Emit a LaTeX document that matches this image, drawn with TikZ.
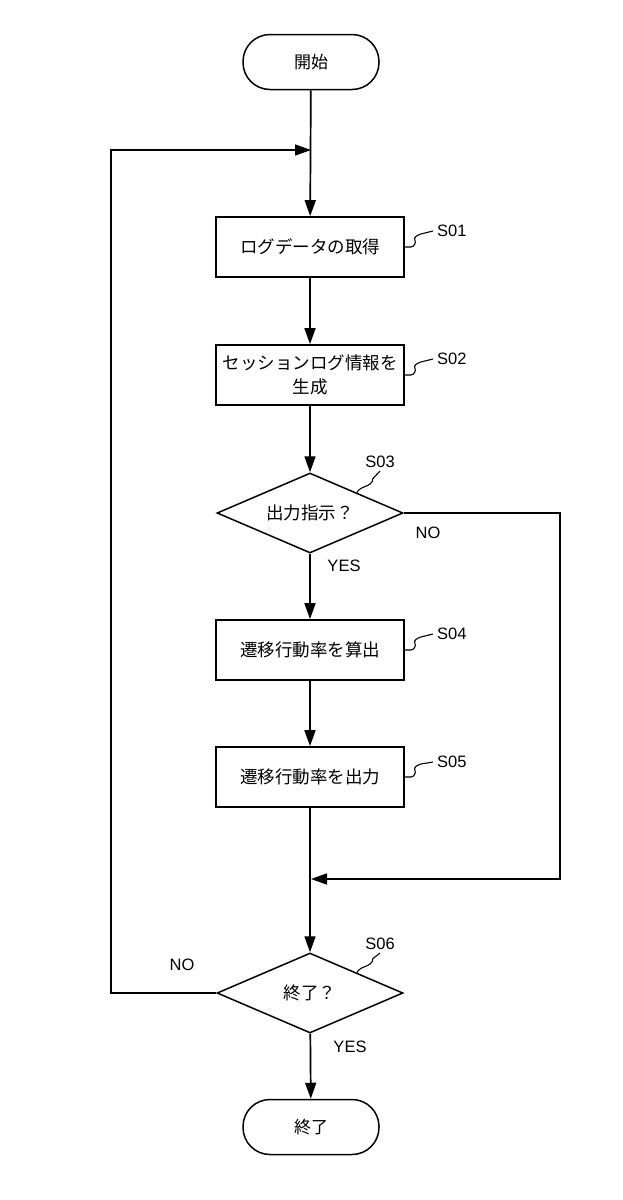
\documentclass[tikz,border=0pt]{standalone}
\usepackage{fontspec}
\setmainfont{Liberation Sans}
\newfontfamily\jp{Noto Sans CJK JP}
\usepackage{tikz}
\usetikzlibrary{shapes.geometric, arrows.meta}
\usetikzlibrary{positioning}
\tikzstyle{terminal} = [rectangle, rounded corners=27pt, minimum width=136pt, minimum height=55pt, draw=black, line width=1.5pt, font=\jp\fontsize{17pt}{20pt}\selectfont]
\tikzstyle{process} = [rectangle, minimum width=188pt, minimum height=60pt, align=center, draw=black, line width=1.7pt, font=\jp\fontsize{17.5pt}{24pt}\selectfont]
\tikzstyle{decision} = [diamond, aspect=2.3, minimum width=186pt, minimum height=80pt, inner sep=0pt, draw=black, line width=1.5pt, font=\jp\fontsize{17.5pt}{20pt}\selectfont]
\tikzstyle{arrow} = [line width=1.7pt, -{Triangle[length=16pt,width=11pt]}]
\tikzstyle{leader} = [line width=1.1pt]
\tikzstyle{steplabel} = [inner sep=0pt, font=\fontsize{16.5pt}{18pt}\selectfont]
\tikzstyle{answer} = [inner sep=0pt, font=\fontsize{16.5pt}{18pt}\selectfont]

\begin{document}
\begin{tikzpicture}[x=1pt, y=-1pt]
    \useasboundingbox (0,0) rectangle (622,1200);
    % flow
    \node (start) [terminal] at (311,62) {開始};
    \node (b1) [process] at (310,247) {ログデータの取得};
    \node (b2) [process] at (310,375) {セッションログ情報を\\生成};
    \node (d3) [decision] at (310,513) {出力指示？};
    \node (b4) [process] at (310,650) {遷移行動率を算出};
    \node (b5) [process] at (310,777) {遷移行動率を出力};
    \node (d6) [decision] at (310,993) {終了？};
    \node (stop) [terminal] at (311,1127) {終了};
    \coordinate (loop) at (311,150);
    \coordinate (lft) at (111,150);
    \coordinate (join) at (311,879);
    \coordinate (rgt) at (560,879);
    % step labels
    \node (l1) [steplabel, anchor=west] at (437,231) {S01};
    \node (l2) [steplabel, anchor=west] at (437,359) {S02};
    \node (l3) [steplabel] at (380,462) {S03};
    \node (l4) [steplabel, anchor=west] at (437,634) {S04};
    \node (l5) [steplabel, anchor=west] at (437,762) {S05};
    \node (l6) [steplabel] at (380,944) {S06};
    \node (no1) [answer] at (428,533) {NO};
    \node (yes1) [answer] at (344,566) {YES};
    \node (no2) [answer] at (182,965) {NO};
    \node (yes2) [answer] at (350,1047) {YES};
    % connectors
    \draw [arrow] (start) -- (b1);
    \draw [arrow] (b1) -- (b2);
    \draw [arrow] (b2) -- (d3);
    \draw [arrow] (d3) -- (b4);
    \draw [arrow] (b4) -- (b5);
    \draw [arrow] (b5) -- (d6);
    \draw [arrow] (d6) -- (stop);
    \draw [arrow] (d3.east) -| (rgt) -- (join);
    \draw [arrow] (d6.west) -| (lft) -- (loop);
    % leaders
    \draw [leader] (b1.east) -- ++(6,0) to[out=0,in=-60] ++(4,-7) to[out=120,in=200] ++(6,-6) -- ([xshift=-4pt]l1.west);
    \draw [leader] (b2.east) -- ++(6,0) to[out=0,in=-60] ++(4,-7) to[out=120,in=200] ++(6,-6) -- ([xshift=-4pt]l2.west);
    \draw [leader] (b4.east) -- ++(6,0) to[out=0,in=-60] ++(4,-7) to[out=120,in=200] ++(6,-6) -- ([xshift=-4pt]l4.west);
    \draw [leader] (b5.east) -- ++(6,0) to[out=0,in=-60] ++(4,-7) to[out=120,in=200] ++(6,-6) -- ([xshift=-4pt]l5.west);
    \draw [leader] (d3.north east) to[out=60,in=200] ++(8,-6) to[out=20,in=-90] ++(8,-8) -- ([yshift=-3pt]l3.south);
    \draw [leader] (d6.north east) to[out=60,in=200] ++(8,-6) to[out=20,in=-90] ++(8,-8) -- ([yshift=-3pt]l6.south);
\end{tikzpicture}
\end{document}
